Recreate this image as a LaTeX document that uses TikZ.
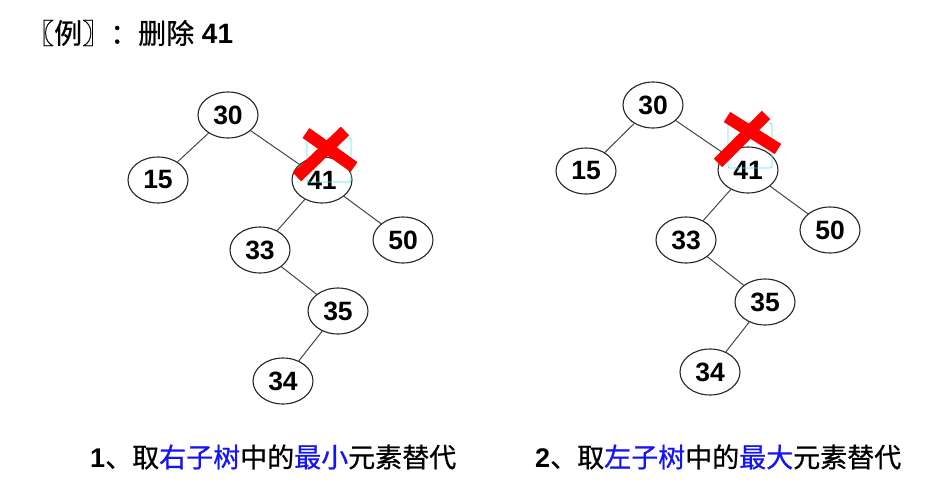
\documentclass[tikz,border=0pt]{standalone}
\usepackage{fontspec}
\setmainfont{Liberation Sans}
\newfontfamily\cjk[FakeBold=0.7]{Noto Sans CJK SC}
\usetikzlibrary{shapes.geometric}
\definecolor{capblue}{RGB}{20,20,245}
\definecolor{edgegray}{RGB}{70,70,70}
\definecolor{selcyan}{RGB}{80,230,240}
\tikzset{
  tnode/.style={ellipse, draw=black!85, line width=1.1pt, fill=white, minimum width=60pt, minimum height=46pt, inner sep=0pt, font=\fontsize{26.5}{26}\selectfont\bfseries},
  tedge/.style={draw=edgegray, line width=1pt},
  crossline/.style={draw=red, line width=12pt},
  selbox/.style={draw=selcyan, line width=0.7pt, rounded corners=2pt},
  captext/.style={anchor=west, inner sep=0pt, font=\fontsize{27}{27}\selectfont},
}
\begin{document}
\begin{tikzpicture}[x=1pt, y=-1pt]
\useasboundingbox (0,0) rectangle (937,485);
% title
\node[anchor=west, inner sep=0pt, font=\fontsize{28}{28}\selectfont] (title) at (26,33) {{\cjk 〖例〗：删除} \textbf{41}};
% left tree
\node[tnode] (L30) at (228,115) {30};
\node[tnode] (L15) at (158,180) {15};
\node[tnode] (L41) at (322,180) {41};
\node[tnode] (L50) at (403,240) {50};
\node[tnode] (L33) at (260,250) {33};
\node[tnode] (L35) at (338,311) {35};
\node[tnode] (L34) at (283,381) {34};
\draw[tedge] (L30) -- (L15);
\draw[tedge] (L30) -- (L41);
\draw[tedge] (L41) -- (L33);
\draw[tedge] (L41) -- (L50);
\draw[tedge] (L33) -- (L35);
\draw[tedge] (L35) -- (L34);
% right tree
\node[tnode] (R30) at (653,105) {30};
\node[tnode] (R15) at (586,171) {15};
\node[tnode] (R41) at (748,170) {41};
\node[tnode] (R50) at (830,230) {50};
\node[tnode] (R33) at (686,240) {33};
\node[tnode] (R35) at (765,302) {35};
\node[tnode] (R34) at (710,372) {34};
\draw[tedge] (R30) -- (R15);
\draw[tedge] (R30) -- (R41);
\draw[tedge] (R41) -- (R33);
\draw[tedge] (R41) -- (R50);
\draw[tedge] (R33) -- (R35);
\draw[tedge] (R35) -- (R34);
% selection boxes
\draw[selbox] (307,138) rectangle (351,182);
\draw[selbox] (728,123) rectangle (772,168);
% red crosses
\coordinate (LXa) at (306,133);
\coordinate (LXb) at (354,167);
\coordinate (LXc) at (345,131);
\coordinate (LXd) at (297,177);
\draw[crossline] (LXa) -- (LXb);
\draw[crossline] (LXc) -- (LXd);
\coordinate (RXa) at (727,117);
\coordinate (RXb) at (778,149);
\coordinate (RXc) at (766,115);
\coordinate (RXd) at (718,163);
\draw[crossline] (RXa) -- (RXb);
\draw[crossline] (RXc) -- (RXd);
% captions
\node[captext] (cap1) at (90,457) {\textbf{1}{\cjk 、取\textcolor{capblue}{右子树}中的\textcolor{capblue}{最小}元素替代}};
\node[captext] (cap2) at (535,457) {\textbf{2}{\cjk 、取\textcolor{capblue}{左子树}中的\textcolor{capblue}{最大}元素替代}};
\end{tikzpicture}
\end{document}
